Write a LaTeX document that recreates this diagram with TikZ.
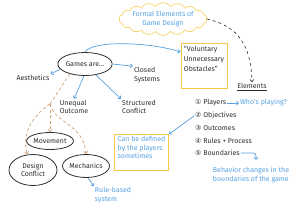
\documentclass[tikz,border=0pt]{standalone}
\usepackage{fontspec}
\setmainfont{Fira Sans}
\newfontfamily\symfont{DejaVu Sans}
\usepackage{tikz}
\usetikzlibrary{arrows.meta,calc,positioning,shapes.geometric,shapes.symbols}
\definecolor{inkblue}{RGB}{85,160,225}
\definecolor{inkbrown}{RGB}{205,160,120}
\definecolor{inkyellow}{RGB}{245,200,70}
\definecolor{inkgray}{RGB}{45,45,45}
\newcommand{\cnum}[1]{{\symfont #1}}
\tikzset{txt/.style={font=\fontsize{7}{8.5}\selectfont,text=inkgray,inner sep=1pt,align=left},
  bluetxt/.style={txt,text=inkblue},
  ell/.style={ellipse,draw=inkgray,line width=0.8pt,txt,align=center,inner sep=0pt},
  ybox/.style={draw=inkyellow,line width=0.9pt,txt,inner sep=2pt},
  arr/.style={-{Straight Barb[length=2.2pt,width=4pt]},inkblue,line width=0.7pt},
  brarr/.style={-{Straight Barb[length=2.2pt,width=4pt]},inkbrown,dashed,line width=0.7pt,dash pattern=on 3pt off 2.5pt},
  darr/.style={-{Straight Barb[length=2.2pt,width=4pt]},inkgray,line width=0.6pt,dash pattern=on 3pt off 3pt}}

\begin{document}
\begin{tikzpicture}[x=1pt,y=-1pt]
\useasboundingbox (0,0) rectangle (300,210);
\node[cloud,cloud puffs=18,cloud puff arc=110,aspect=3.4,draw=inkyellow!80,line width=0.7pt,
  bluetxt,align=center,minimum width=88pt,minimum height=27pt,inner sep=0pt] (formal) at (163,19) {Formal Elements of\\Game Design};
\node[ybox,minimum width=46pt,minimum height=45pt,font=\fontsize{7}{10}\selectfont] (vuo) at (204,65.5) {``Voluntary\\Unnecessary\\Obstacles''\\[4pt]};
\node[ell,minimum width=45pt,minimum height=23pt] (games) at (85,64) {Games are\ldots};
\node[txt] (aes) at (33,78) {Aesthetics};
\node[txt] (closed) at (147,75) {Closed\\Systems};
\node[txt] (unequal) at (74,107) {Unequal\\Outcome};
\node[txt] (struct) at (139,107) {Structured\\Conflict};
\node[ell,minimum width=45pt,minimum height=17pt] (move) at (50,141) {Movement};
\node[ell,minimum width=48pt,minimum height=31pt] (design) at (33,170) {Design\\Conflict};
\node[ell,minimum width=44pt,minimum height=23pt] (mech) at (86,166) {Mechanics};
\node[bluetxt] (rule) at (113,195) {Rule-based\\system};
\node[ybox,text=inkblue,minimum width=54pt,minimum height=31pt] (defined) at (141.5,152.5) {Can be defined\\by the players\\sometimes\\[1pt]};
\node[txt] (elem) at (252,87) {\underline{Elements}};
\node[txt,anchor=west] (players) at (194,103) {\cnum{①} Players};
\node[bluetxt,anchor=west] (who) at (239,103) {Who's playing?};
\node[txt,anchor=west] (obj) at (194,116) {\cnum{②} Objectives};
\node[txt,anchor=west] (outc) at (194,128) {\cnum{③} Outcomes};
\node[txt,anchor=west] (rules) at (194,141) {\cnum{④} Rules + Process};
\node[txt,anchor=west] (bound) at (194,153) {\cnum{⑤} Boundaries};
\node[bluetxt] (behav) at (251,175) {Behavior changes in the\\boundaries of the game};
\coordinate (fork) at (50,104);
\coordinate (hook) at (256,160);

\draw[darr] (formal.east) .. controls (238,26) and (251,45) .. (elem.north);
\draw[arr] (games.north) .. controls (92,40) and (150,42) .. (vuo.150);
\draw[arr] (games.192) -- (aes.north east);
\draw[arr] (games.east) -- (closed.north west);
\draw[arr] (games.265) -- (unequal.north);
\draw[arr] (games.-45) -- (struct.north west);
\draw[brarr,-] (games.213) -- (fork);
\draw[brarr] (fork) -- (move.north);
\draw[brarr] (fork) .. controls (30,118) and (22,135) .. (design.110);
\draw[brarr] (fork) .. controls (55,124) and (84,124) .. (mech.north);
\draw[arr] (mech.-80) -- (rule.north west);
\draw[arr] (players.east) -- (who.west);
\draw[arr] (obj.west) -- (defined.north east);
\draw[arr,rounded corners=3pt] (bound.east) -| (hook);
\end{tikzpicture}
\end{document}
